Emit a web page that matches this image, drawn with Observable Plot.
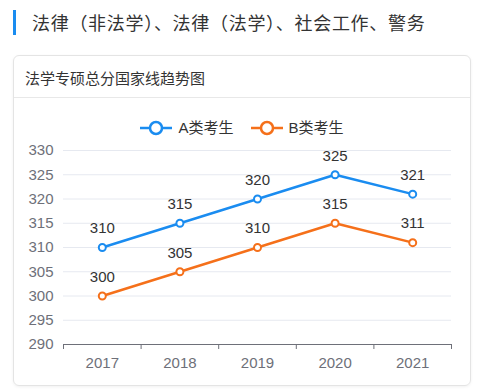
<!DOCTYPE html>
<html><head><meta charset="utf-8">
<script src="https://cdn.jsdelivr.net/npm/d3@7"></script>
<script src="https://cdn.jsdelivr.net/npm/@observablehq/plot@0.6"></script>
<style>
body{margin:0;background:#fff;font-family:"Liberation Sans","Noto Sans CJK SC",sans-serif;width:478px;height:392px;position:relative;overflow:hidden}
#bar{position:absolute;left:13px;top:10px;width:3px;height:25px;background:#1a8cf0}
#title{position:absolute;left:32px;top:9px;font-size:18px;color:#333;line-height:26px;letter-spacing:0.7px;font-family:"Noto Sans CJK SC",sans-serif;white-space:nowrap}
#card{position:absolute;left:13px;top:55px;width:456px;height:329px;border:1px solid #e4e4e4;border-radius:6px;box-shadow:0 1px 3px rgba(0,0,0,0.06)}
#head{height:41px;border-bottom:1px solid #e8e8e8;font-size:15px;color:#333;line-height:43px;padding-left:11px;font-family:"Noto Sans CJK SC",sans-serif}
#chart{position:absolute;left:0;top:42px}
#legend{position:absolute;left:0;top:62px;width:456px;display:flex;justify-content:center;gap:17px;z-index:2;font-size:15px;color:#333}
.item{display:flex;align-items:center;gap:6px;line-height:20px}
</style></head>
<body>
<div id="bar"></div>
<div id="title">法律（非法学）、法律（法学）、社会工作、警务</div>
<div id="card">
  <div id="head">法学专硕总分国家线趋势图</div>
  <div id="legend"></div>
  <div id="chart"></div>
</div>
<script>
const years = [2017, 2018, 2019, 2020, 2021];
const seriesNames = ["A类考生", "B类考生"];
const aScores = [310, 315, 320, 325, 321];
const bScores = [300, 305, 310, 315, 311];
const yTicks = [290, 295, 300, 305, 310, 315, 320, 325, 330];
const colors = ["#1a8cf0", "#f5701a"];

const dataA = years.map((y, i) => ({year: y, value: aScores[i]}));
const dataB = years.map((y, i) => ({year: y, value: bScores[i]}));
const bounds = [years[0] - 0.5, ...years.map(y => y + 0.5)];

const legend = document.getElementById("legend");
seriesNames.forEach((n, i) => {
  const it = document.createElement("div");
  it.className = "item";
  it.innerHTML = `<svg width="32" height="16"><line x1="0" x2="32" y1="8" y2="8" stroke="${colors[i]}" stroke-width="2.5"/><circle cx="16" cy="8" r="6" fill="#fff" stroke="${colors[i]}" stroke-width="2.5"/></svg><span>${n}</span>`;
  legend.appendChild(it);
});

const axisColor = "#6e7079";
const chart = Plot.plot({
  width: 456,
  height: 284,
  marginTop: 52,
  marginBottom: 38,
  marginLeft: 49,
  marginRight: 19,
  style: {fontFamily: '"Liberation Sans", "Noto Sans CJK SC", sans-serif', fontSize: "15px", background: "transparent"},
  x: {domain: [bounds[0], bounds[bounds.length - 1]], axis: null, label: null},
  y: {domain: [yTicks[0], yTicks[yTicks.length - 1]], axis: null, label: null},
  marks: [
    Plot.gridY(yTicks.slice(1), {stroke: "#e6e9f0", strokeOpacity: 1}),
    Plot.axisY(yTicks, {tickSize: 0, tickPadding: 10, fontSize: 15, color: axisColor, label: null, tickFormat: d => String(d)}),
    Plot.ruleY([yTicks[0]], {stroke: axisColor}),
    Plot.axisX(bounds, {tickSize: 5, tickFormat: () => "", stroke: axisColor, label: null}),
    Plot.axisX(years, {tickSize: 0, tickPadding: 13, fontSize: 15, color: axisColor, label: null, tickFormat: d => String(d)}),
    Plot.line(dataA, {x: "year", y: "value", stroke: colors[0], strokeWidth: 2.5}),
    Plot.line(dataB, {x: "year", y: "value", stroke: colors[1], strokeWidth: 2.5}),
    Plot.dot(dataA, {x: "year", y: "value", r: 3.5, fill: "#fff", stroke: colors[0], strokeWidth: 2}),
    Plot.dot(dataB, {x: "year", y: "value", r: 3.5, fill: "#fff", stroke: colors[1], strokeWidth: 2}),
    Plot.text(dataA, {x: "year", y: "value", text: d => String(d.value), dy: -19, fontSize: 15, fill: "#333"}),
    Plot.text(dataB, {x: "year", y: "value", text: d => String(d.value), dy: -19, fontSize: 15, fill: "#333"})
  ]
});
document.getElementById("chart").appendChild(chart);
</script>
</body></html>
